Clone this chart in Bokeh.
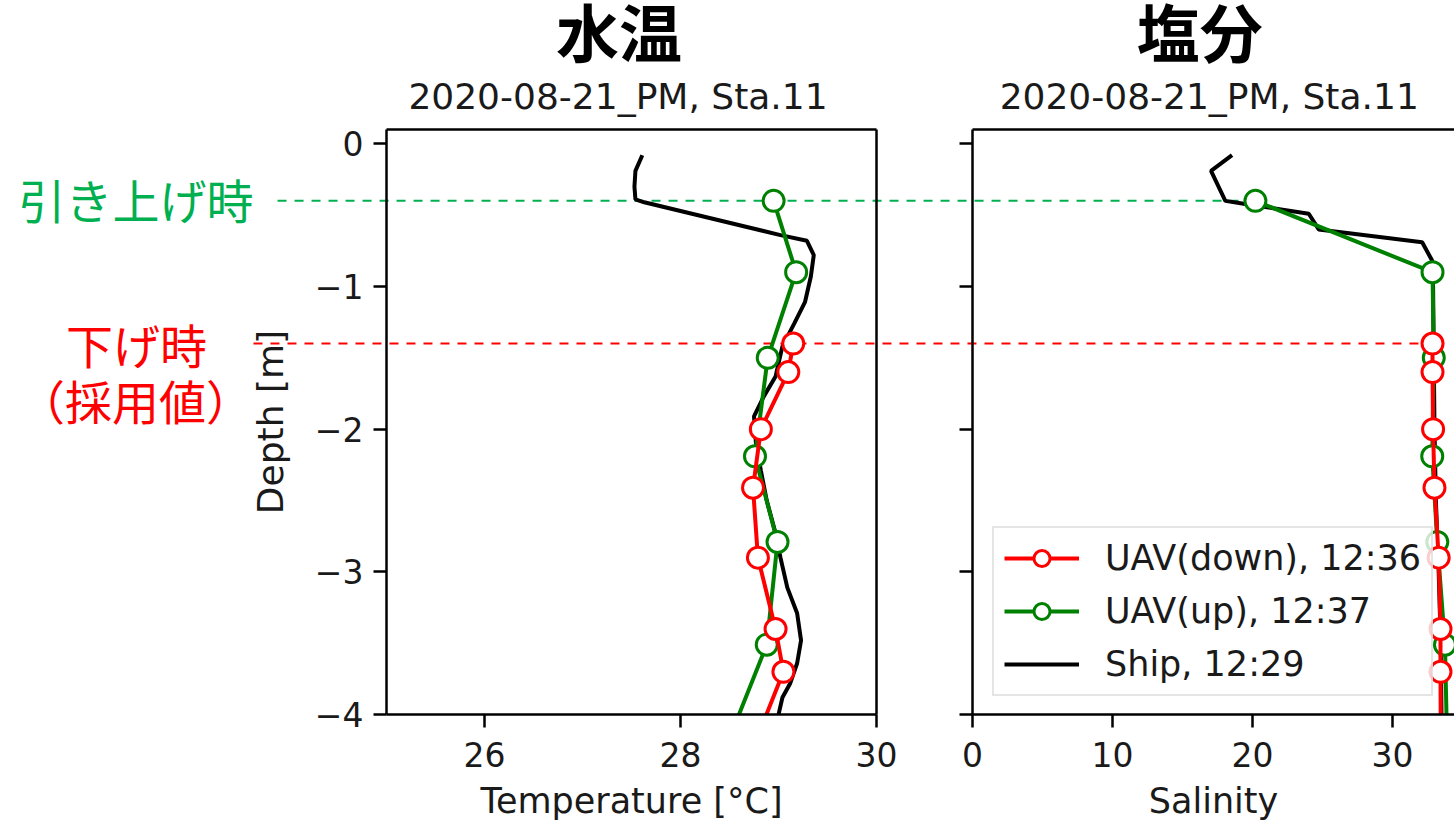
from bokeh.plotting import figure
from bokeh.models import (Range1d, FixedTicker, Label, Legend, LegendItem, LinearAxis,
                          CustomLabelingPolicy, BoxAnnotation)
from bokeh.embed import file_html
from bokeh.resources import INLINE

# ---- profile data (depth in m, negative downward) ----
uav_down_depth = [-1.40, -1.60, -2.00, -2.41, -2.90, -3.40, -3.70, -4.20]
uav_down_temp = [29.15, 29.10, 28.82, 28.74, 28.79, 28.97, 29.05, 28.76]
uav_down_sal = [32.86, 32.86, 32.90, 33.00, 33.30, 33.43, 33.43, 33.45]

uav_up_depth = [-0.40, -0.90, -1.50, -2.19, -2.79, -3.51, -4.20]
uav_up_temp = [28.95, 29.18, 28.89, 28.76, 28.99, 28.88, 28.48]
uav_up_sal = [20.21, 32.86, 32.95, 32.84, 33.20, 33.75, 33.90]

ship_temp_depth = [-0.08, -0.19, -0.30, -0.39, -0.41, -0.64, -0.68, -0.78, -0.93,
                   -1.11, -1.26, -1.42, -1.63, -1.77, -1.91, -2.10, -2.29, -2.50,
                   -2.73, -2.90, -3.11, -3.29, -3.48, -3.64, -3.78, -3.88, -4.00, -4.10]
ship_temp = [27.61, 27.54, 27.53, 27.54, 27.63, 29.02, 29.29, 29.36, 29.33,
             29.27, 29.16, 29.04, 28.97, 28.85, 28.75, 28.77, 28.82, 28.88,
             28.97, 29.02, 29.09, 29.19, 29.23, 29.19, 29.12, 29.04, 29.00, 28.98]

ship_sal_depth = [-0.08, -0.19, -0.40, -0.42, -0.49, -0.60, -0.69, -0.82, -1.00,
                  -1.50, -2.00, -2.50, -3.00, -3.50, -4.00, -4.10]
ship_sal = [18.54, 17.04, 18.06, 19.37, 24.02, 24.73, 32.12, 32.84, 32.90,
            32.95, 33.00, 33.10, 33.30, 33.45, 33.50, 33.50]

series_labels = ["UAV(down), 12:36", "UAV(up), 12:37", "Ship, 12:29"]
panel_titles = ["水温", "塩分"]
subtitle = "2020-08-21_PM, Sta.11"
depth_ticks = [0, -1, -2, -3, -4]
temp_ticks = [26, 28, 30]
sal_ticks = [0, 10, 20, 30]
note_up = "引き上げ時"
note_down = ["下げ時", "（採用値）"]

# panel extents
depth_lim = (-4, 0.1)
temp_lim = (25, 30)
sal_lim = (0, 35)

# ---- styling ----
RED, GREEN, BLACK = "#ff0000", "#008000", "#000000"
NOTE_GREEN, NOTE_RED = "#00b050", "#ff0000"
TEXT = "#1a1a1a"
TICK_FONT = "DejaVu Sans"
JP_FONT = "Noto Sans CJK JP"
EDGE_W = 2.5

# One canvas holds both panels: the frame spans the whole page, the temperature
# panel uses the default x range and the salinity panel an extra x range.
p = figure(width=1454, height=827,
           x_range=Range1d(21.061, 35.898), y_range=Range1d(-4.791, 1.004),
           output_backend="svg", toolbar_location=None,
           x_axis_type=None, y_axis_type=None,
           min_border_left=0, min_border_right=0, min_border_top=0, min_border_bottom=0)
p.extra_x_ranges = {"sal": Range1d(-69.43, 34.43)}
p.xgrid.visible = False
p.ygrid.visible = False
p.outline_line_color = None
p.background_fill_color = "white"
p.border_fill_color = "white"

no_labels = CustomLabelingPolicy(code="for (const i of indices) indices.unset(i)\nreturn indices")


def axis(side, ticks, fixed, bounds, range_name="default", label=None, show_labels=True):
    ax = LinearAxis(ticker=FixedTicker(ticks=ticks), fixed_location=fixed, bounds=bounds,
                    x_range_name=range_name,
                    axis_line_color="black", axis_line_width=EDGE_W,
                    major_tick_line_color="black", major_tick_line_width=EDGE_W,
                    major_tick_out=13, major_tick_in=0, minor_tick_line_color=None,
                    major_label_text_font=TICK_FONT, major_label_text_font_size="33px",
                    major_label_text_color=TEXT, major_label_standoff=10,
                    axis_label_text_font=TICK_FONT, axis_label_text_font_size="36px",
                    axis_label_text_font_style="normal", axis_label_text_color=TEXT,
                    axis_label_standoff=21)
    if label:
        ax.axis_label = label
    if not show_labels:
        ax.major_label_policy = no_labels
    p.add_layout(ax, side)
    return ax


minus = {t: (f"\u2212{abs(t)}" if t < 0 else str(t)) for t in depth_ticks}

# ---- up/down levels, drawn from the side notes across both panels ----
p.segment(x0=[-49.64], y0=[uav_up_depth[0]], x1=[uav_up_sal[0]], y1=[uav_up_depth[0]],
          x_range_name="sal", line_color=NOTE_GREEN, line_width=2, line_dash="9 8",
          level="underlay")
p.segment(x0=[-51.36], y0=[uav_down_depth[0]], x1=[uav_down_sal[0]], y1=[uav_down_depth[0]],
          x_range_name="sal", line_color=NOTE_RED, line_width=2, line_dash="9 8",
          level="underlay")

# ---- profiles ----
LW = 4
MS = 21


def draw_profiles(ship_x, ship_y, up_x, down_x, range_name):
    ship = p.line(ship_x, ship_y, line_color=BLACK, line_width=LW, x_range_name=range_name)
    up_l = p.line(up_x, uav_up_depth, line_color=GREEN, line_width=LW, x_range_name=range_name)
    up_m = p.scatter(up_x, uav_up_depth, marker="circle", size=MS, fill_color="white",
                     line_color=GREEN, line_width=3, x_range_name=range_name)
    dn_l = p.line(down_x, uav_down_depth, line_color=RED, line_width=LW, x_range_name=range_name)
    dn_m = p.scatter(down_x, uav_down_depth, marker="circle", size=MS, fill_color="white",
                     line_color=RED, line_width=3, x_range_name=range_name)
    return ship, (up_l, up_m), (dn_l, dn_m)


draw_profiles(ship_temp, ship_temp_depth, uav_up_temp, uav_down_temp, "default")
ship_r, up_r, dn_r = draw_profiles(ship_sal, ship_sal_depth, uav_up_sal, uav_down_sal, "sal")

# profiles end at the panel floor: blank out everything below it
floor_mask = BoxAnnotation(top=depth_lim[0], fill_color="white", fill_alpha=1.0,
                           line_color=None, level="glyph")
p.renderers.append(floor_mask)

# temperature panel box
ax_t_left = axis("left", depth_ticks, temp_lim[0], depth_lim, label="Depth [m]")
ax_t_left.major_label_overrides = minus
ax_t_bottom = axis("below", temp_ticks, depth_lim[0], temp_lim, label="Temperature [°C]")
axis("above", [], depth_lim[1], temp_lim, show_labels=False)
axis("right", [], temp_lim[1], depth_lim, show_labels=False)

# salinity panel box (its right edge lies past the canvas)
axis("left", depth_ticks, sal_lim[0], depth_lim, range_name="sal", show_labels=False)
ax_s_bottom = axis("below", sal_ticks, depth_lim[0], sal_lim, range_name="sal", label="Salinity")
axis("above", [], depth_lim[1], sal_lim, range_name="sal", show_labels=False)

for ax in (ax_t_bottom, ax_s_bottom):
    ax.major_label_standoff = 14
    ax.axis_label_standoff = 11
    ax.axis_label_text_font_size = "35px"

legend = Legend(items=[LegendItem(label=series_labels[0], renderers=list(dn_r)),
                       LegendItem(label=series_labels[1], renderers=list(up_r)),
                       LegendItem(label=series_labels[2], renderers=[ship_r])],
                location=(992, 131), margin=0, padding=10, spacing=13,
                glyph_width=75, glyph_height=40, label_height=40, label_standoff=26,
                label_text_font=TICK_FONT, label_text_font_size="35px", label_text_color=TEXT,
                border_line_color="#cccccc", border_line_width=2,
                background_fill_color="white", background_fill_alpha=0.8)
p.add_layout(legend, "center")

# ---- titles ----
p.add_layout(Label(x=27.372, y=0.801, text=panel_titles[0], text_align="center",
                   text_baseline="alphabetic", text_font=JP_FONT, text_font_style="bold",
                   text_font_size="63px", text_color="black"))
p.add_layout(Label(x=27.362, y=0.331, text=subtitle, text_align="center",
                   text_baseline="alphabetic", text_font=TICK_FONT,
                   text_font_size="36px", text_color=TEXT))
p.add_layout(Label(x=16.23, y=0.801, x_range_name="sal", text=panel_titles[1],
                   text_align="center", text_baseline="alphabetic", text_font=JP_FONT,
                   text_font_style="bold", text_font_size="63px", text_color="black"))
p.add_layout(Label(x=16.91, y=0.331, x_range_name="sal", text=subtitle, text_align="center",
                   text_baseline="alphabetic", text_font=TICK_FONT,
                   text_font_size="36px", text_color=TEXT))

# ---- side notes ----
p.add_layout(Label(x=22.444, y=-0.383, text=note_up, text_align="center",
                   text_baseline="alphabetic", text_font=JP_FONT,
                   text_font_size="47px", text_color=NOTE_GREEN))
p.add_layout(Label(x=22.449, y=-1.402, text=note_down[0], text_align="center",
                   text_baseline="alphabetic", text_font=JP_FONT,
                   text_font_size="47px", text_color=NOTE_RED))
p.add_layout(Label(x=22.439, y=-1.794, text=note_down[1], text_align="center",
                   text_baseline="alphabetic", text_font=JP_FONT,
                   text_font_size="47px", text_color=NOTE_RED))

open("out.html", "w").write(file_html(p, INLINE))
